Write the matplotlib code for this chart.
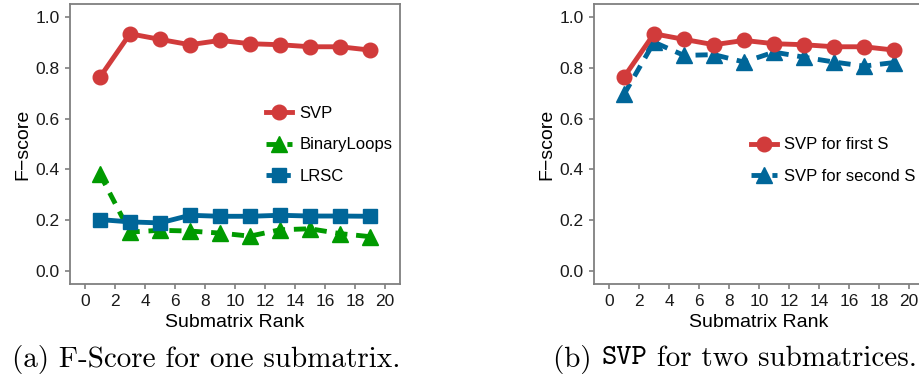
import matplotlib
matplotlib.use("Agg")
import matplotlib.pyplot as plt
import numpy as np

rank = [1, 3, 5, 7, 9, 11, 13, 15, 17, 19]
svp = [0.763, 0.933, 0.911, 0.890, 0.907, 0.894, 0.890, 0.882, 0.882, 0.869]
binary_loops = [0.381, 0.154, 0.161, 0.158, 0.150, 0.138, 0.163, 0.167, 0.148, 0.136]
lrsc = [0.203, 0.194, 0.190, 0.220, 0.216, 0.216, 0.220, 0.217, 0.217, 0.216]
svp_second = [0.695, 0.900, 0.848, 0.851, 0.822, 0.861, 0.841, 0.822, 0.806, 0.820]

red = '#d13b3b'
green = '#009a00'
blue = '#006699'

plt.rcParams['font.family'] = ['Liberation Sans', 'DejaVu Sans']

fig = plt.figure(figsize=(9.2, 3.85), dpi=100)
ax1 = fig.add_axes([70/920, 1-284/385, 330/920, 280/385])
ax2 = fig.add_axes([594/920, 1-284/385, 330/920, 280/385])

def style(ax):
    ax.set_xlim(-1, 21)
    ax.set_ylim(-0.05, 1.05)
    ax.set_xticks(np.arange(0, 21, 2))
    ax.set_yticks(np.arange(0, 1.01, 0.2))
    ax.set_yticklabels(['%.1f' % v for v in np.arange(0, 1.01, 0.2)])
    for s in ax.spines.values():
        s.set_color('#7f7f7f')
        s.set_linewidth(1.3)
    ax.tick_params(color='#7f7f7f', length=3.5, width=1.2, labelsize=12.5, labelcolor='#1a1a1a', pad=4)
    ax.set_xlabel('Submatrix Rank', fontsize=14, labelpad=3, color='black')
    ax.set_ylabel('F\u2212score', fontsize=14, labelpad=3, color='black')

ax1.plot(rank, svp, color=red, lw=3.5, marker='o', ms=10.5, label='SVP', zorder=5)
ax1.plot(rank, binary_loops, color=green, lw=3.5, ls=(0, (2.5, 1.8)), marker='^', ms=11, label='BinaryLoops', zorder=3)
ax1.plot(rank, lrsc, color=blue, lw=3.5, ls=(0, (5, 1.2)), marker='s', ms=10, label='LRSC', zorder=4)
style(ax1)
ax1.legend(loc='center left', bbox_to_anchor=(0.594, 0.497), frameon=False, fontsize=12,
           handlelength=1.55, handletextpad=0.45, labelspacing=1.0, borderaxespad=0, borderpad=0)

ax2.plot(rank, svp, color=red, lw=3.5, marker='o', ms=10.5, label='SVP for first S', zorder=5)
ax2.plot(rank, svp_second, color=blue, lw=3.5, ls=(0, (2.5, 1.8)), marker='^', ms=11, label='SVP for second S', zorder=4)
style(ax2)
ax2.legend(loc='center left', bbox_to_anchor=(0.476, 0.440), frameon=False, fontsize=12,
           handlelength=1.55, handletextpad=0.45, labelspacing=1.0, borderaxespad=0, borderpad=0)

ycap = 1 - 359/385
fig.text(206/920, ycap, '(a) F-Score for one submatrix.', family='cmr10', fontsize=21,
         ha='center', va='center')
t1 = fig.text(553/920, ycap, '(b) ', family='cmr10', fontsize=21, ha='left', va='center')
fig.canvas.draw()
bb = t1.get_window_extent()
t2 = fig.text(bb.x1/920, ycap, 'SVP', family='cmtt10', fontsize=21, ha='left', va='center')
bb2 = t2.get_window_extent()
fig.text(bb2.x1/920, ycap, ' for two submatrices.', family='cmr10', fontsize=21, ha='left', va='center')

fig.savefig('out.png', dpi=100)
